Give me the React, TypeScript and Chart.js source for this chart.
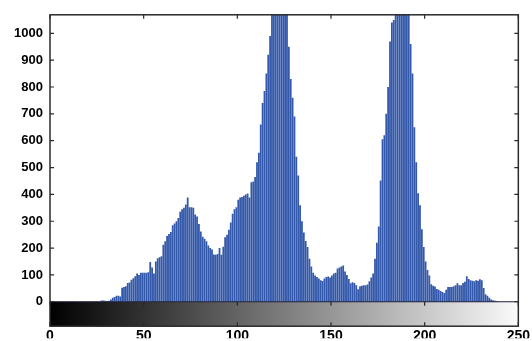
import React, { useEffect, useRef } from "react";
import { Chart, registerables } from "chart.js";

Chart.register(...registerables);

// Pixel counts per intensity level (0..255)
const HIST_COUNTS: number[] = [
  0, 0, 0, 0, 0, 0, 0, 0, 0, 0, 0, 0, 0, 0, 0, 0, 0, 0, 0, 0, 0, 0, 0, 0, 0, 0, 0,
  5, 5, 4, 3, 4, 8, 15, 18, 22, 22, 20, 52, 55, 58, 70, 72, 82, 88, 95, 105, 100,
  108, 108, 108, 108, 110, 148, 128, 105, 150, 162, 166, 170, 212, 225, 245, 252,
  260, 285, 292, 300, 312, 335, 345, 350, 362, 388, 352, 352, 350, 325, 318, 290,
  262, 242, 235, 225, 210, 200, 195, 176, 175, 178, 200, 175, 205, 240, 250, 268,
  295, 328, 345, 352, 380, 388, 390, 395, 400, 403, 388, 445, 448, 465, 520, 555,
  660, 740, 785, 850, 920, 990, 1090, 1150, 1220, 1280, 1320, 1300, 1240, 1160,
  1080, 950, 830, 760, 690, 540, 470, 360, 300, 258, 226, 204, 160, 131, 108, 98,
  92, 87, 80, 77, 87, 92, 94, 90, 98, 105, 108, 124, 128, 131, 135, 113, 100, 85,
  69, 73, 70, 62, 47, 58, 60, 62, 62, 64, 76, 90, 105, 160, 220, 280, 452, 605,
  620, 700, 800, 970, 1040, 1050, 1100, 1180, 1250, 1300, 1280, 1220, 1150, 1100,
  960, 850, 650, 520, 404, 360, 270, 204, 150, 118, 98, 65, 60, 57, 48, 45, 40,
  36, 33, 45, 55, 55, 55, 58, 62, 69, 62, 62, 70, 75, 95, 85, 80, 78, 76, 80, 78,
  84, 80, 51, 28, 22, 15, 8, 6, 4, 3, 0, 0, 0, 0, 0, 0, 0, 0, 0, 0, 0, 0, 0, 0, 0,
  0, 0,
];

const Y_TICKS: number[] = [0, 100, 200, 300, 400, 500, 600, 700, 800, 900, 1000];
const X_TICKS: number[] = [0, 50, 100, 150, 200, 250];

const Y_MIN = -91;
const Y_MAX = 1069;
const X_MIN = 0;
const X_MAX = 250;

// Grey-level strip under the histogram plus the inward tick marks of the frame
const framePlugin = {
  id: "histFrame",
  beforeDatasetsDraw(chart: any) {
    const { ctx, chartArea, scales } = chart;
    const y0 = scales.y.getPixelForValue(0);
    const g = ctx.createLinearGradient(
      scales.x.getPixelForValue(0),
      0,
      scales.x.getPixelForValue(255),
      0
    );
    g.addColorStop(0, "#000000");
    g.addColorStop(1, "#ffffff");
    ctx.save();
    ctx.fillStyle = g;
    ctx.fillRect(chartArea.left, y0, chartArea.right - chartArea.left, chartArea.bottom - y0);
    ctx.restore();
  },
  afterDraw(chart: any) {
    const { ctx, chartArea, scales } = chart;
    const { left, right, top, bottom } = chartArea;
    const y0 = scales.y.getPixelForValue(0);
    ctx.save();
    ctx.strokeStyle = "#1c1c3a";
    ctx.lineWidth = 1.2;
    ctx.beginPath();
    ctx.moveTo(left, y0);
    ctx.lineTo(right, y0);
    ctx.stroke();

    ctx.strokeStyle = "#2a2a2a";
    ctx.lineWidth = 1.5;
    ctx.strokeRect(left, top, right - left, bottom - top);

    ctx.lineWidth = 1.2;
    ctx.beginPath();
    for (const t of Y_TICKS) {
      const py = scales.y.getPixelForValue(t);
      ctx.moveTo(left, py);
      ctx.lineTo(left + 4, py);
      ctx.moveTo(right, py);
      ctx.lineTo(right - 4, py);
    }
    for (const t of X_TICKS) {
      const px = scales.x.getPixelForValue(t);
      ctx.moveTo(px, top);
      ctx.lineTo(px, top + 4);
      ctx.moveTo(px, y0);
      ctx.lineTo(px, y0 + 4);
      ctx.moveTo(px, bottom);
      ctx.lineTo(px, bottom - 4);
    }
    ctx.stroke();
    ctx.restore();
  },
};

export default function App() {
  const canvasRef = useRef<HTMLCanvasElement | null>(null);

  useEffect(() => {
    if (!canvasRef.current) return;
    const points = HIST_COUNTS.map((count, level) => ({ x: level + 0.5, y: count }));
    const chart = new Chart(canvasRef.current, {
      type: "bar",
      data: {
        datasets: [
          {
            data: points,
            backgroundColor: "#3459aa",
            borderWidth: 0,
            barPercentage: 0.96,
            categoryPercentage: 1,
          },
        ],
      },
      options: {
        animation: false,
        responsive: false,
        maintainAspectRatio: false,
        events: [],
        layout: { padding: { top: 10, right: 13, bottom: 0, left: 0 } },
        plugins: {
          legend: { display: false },
          tooltip: { enabled: false },
          title: { display: false },
        },
        scales: {
          x: {
            type: "linear",
            min: X_MIN,
            max: X_MAX,
            offset: false,
            grid: { display: false, drawTicks: false },
            border: { display: false },
            afterBuildTicks: (scale: any) => {
              scale.ticks = X_TICKS.map((v) => ({ value: v }));
            },
            afterFit: (scale: any) => {
              scale.height = 12;
            },
            ticks: {
              autoSkip: false,
              maxRotation: 0,
              padding: 2,
              color: "#000",
              font: { family: "Liberation Sans", size: 14, weight: "bold" },
              callback: (v: any) => String(v),
            },
          },
          y: {
            type: "linear",
            min: Y_MIN,
            max: Y_MAX,
            grid: { display: false, drawTicks: false },
            border: { display: false },
            afterBuildTicks: (scale: any) => {
              scale.ticks = Y_TICKS.map((v) => ({ value: v }));
            },
            afterFit: (scale: any) => {
              scale.width = 50;
            },
            ticks: {
              autoSkip: false,
              padding: 7,
              color: "#000",
              font: { family: "Liberation Sans", size: 13, weight: "bold" },
              callback: (v: any) => String(v),
            },
          },
        },
      },
      plugins: [framePlugin],
    });
    return () => chart.destroy();
  }, []);

  return (
    <div style={{ position: "fixed", left: 0, top: 0, width: 532, height: 341, background: "#fff" }}>
      <canvas ref={canvasRef} width={532} height={341} style={{ width: 532, height: 341 }} />
    </div>
  );
}
